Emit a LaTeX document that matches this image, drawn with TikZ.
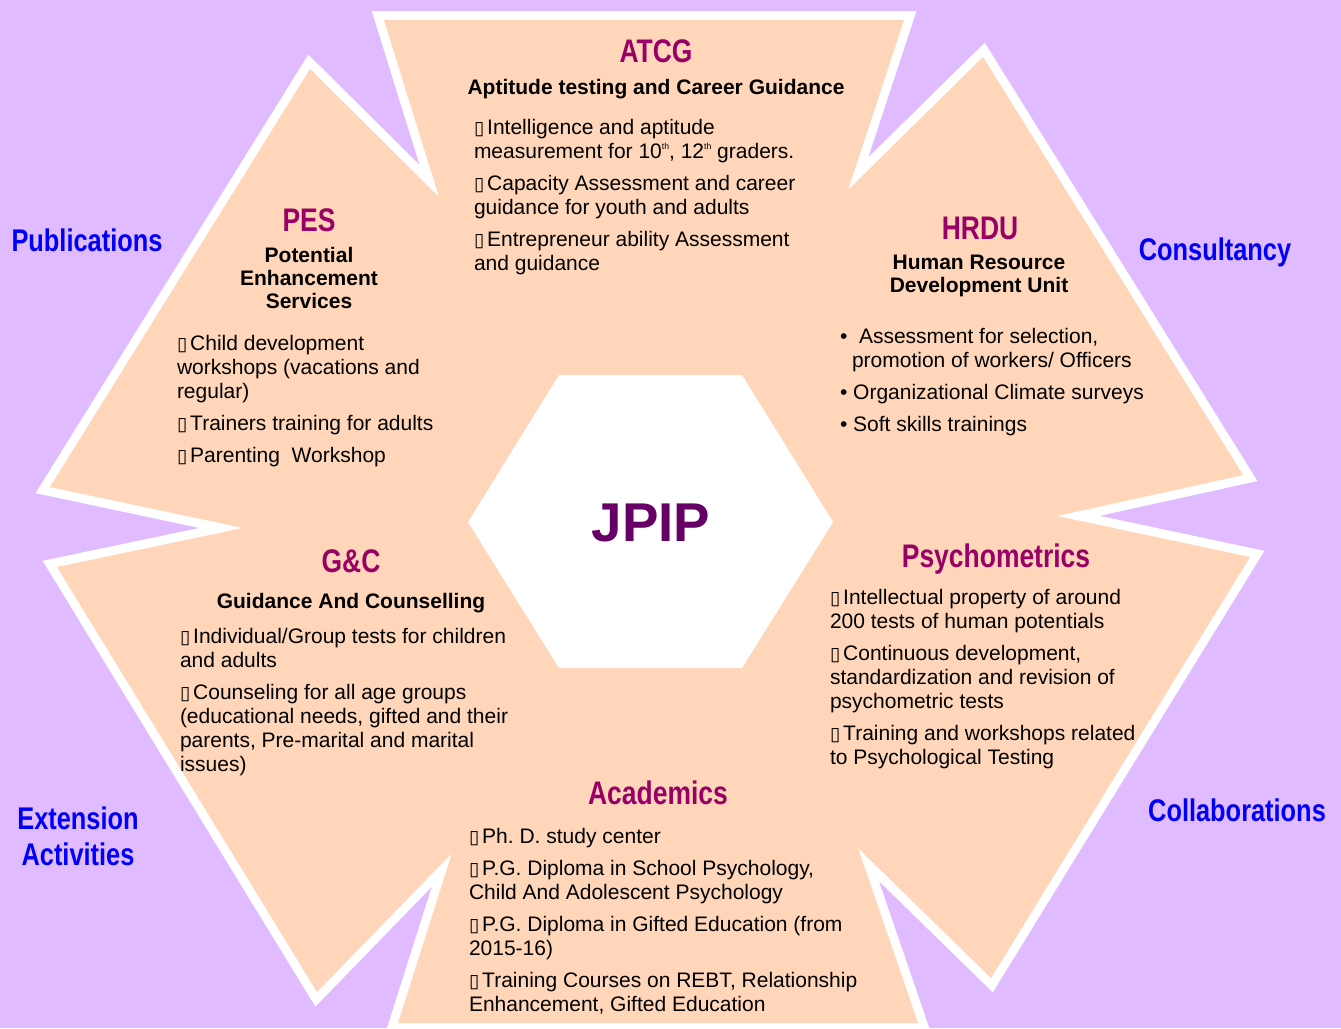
\documentclass[tikz,border=0pt]{standalone}
\usepackage{fontspec}
\setmainfont{Liberation Sans}
\newfontfamily\narrowsans[FakeStretch=0.81]{Liberation Sans}
\newfontfamily\boxsans{DejaVu Sans}
\frenchspacing
\definecolor{lilac}{RGB}{225,187,255}
\definecolor{peach}{RGB}{255,214,185}
\definecolor{unitred}{RGB}{153,0,102}
\definecolor{linkblue}{RGB}{0,0,245}
\definecolor{hubpurple}{RGB}{102,0,102}
\newcommand{\bx}{{\boxsans\fontsize{14}{14}\selectfont\symbol{"25AF}}\hspace{2.2pt}}
\newcommand{\ordth}{\raisebox{6.5pt}{\fontsize{6.5}{6.5}\selectfont th}}

\begin{document}
\begin{tikzpicture}[x=0.75pt,y=-0.75pt]
	\tikzstyle{every node}=[inner sep=0pt,outer sep=0pt]
	\tikzstyle{unit}=[anchor=base,text=unitred,font=\narrowsans\bfseries\fontsize{24.5}{24.5}\selectfont]
	\tikzstyle{unitname}=[align=center,font=\bfseries\fontsize{15.75}{17.5}\selectfont]
	\tikzstyle{duties}=[anchor=north west,align=left,font=\fontsize{15.75}{18}\selectfont]
	\tikzstyle{outreach}=[anchor=base,align=center,text=linkblue,font=\narrowsans\bfseries\fontsize{23.5}{27}\selectfont]
	
	%% background
	\useasboundingbox (0,0) rectangle (1341,1028);
	\fill[lilac] (0,0) rectangle (1341,1028);
	
	%% six units as one star with a white rim
	\path[preaction={draw=white,line width=13.5pt,line join=miter},fill=peach]
		(384,20) -- (439,197) -- (310,69) -- (50,487) -- (243,528) -- (57,567)
		-- (317,992) -- (452,853) -- (398,1023) -- (918,1023) -- (858,848)
		-- (991,978) -- (1250,557) -- (1057,516) -- (1243,475) -- (983,57)
		-- (848,190) -- (904,20) -- cycle;
	
	%% hub
	\fill[white] (468,522) -- (559,375) -- (742,375) -- (833,522) -- (742,668) -- (559,668) -- cycle;
	\node[anchor=base,text=hubpurple,font=\bfseries\fontsize{41}{41}\selectfont] (jpip) at (651,541) {JPIP};
	
	%% ATCG
	\node[unit] (atcg) at (656,62) {ATCG};
	\node[unitname,anchor=base] (atcgname) at (656,94) {Aptitude testing and Career Guidance};
	\node[duties] (atcglist) at (474,119) {\bx Intelligence and aptitude\\
		measurement for 10\ordth, 12\ordth\ graders.\\[6pt]
		\bx Capacity Assessment and career\\
		guidance for youth and adults\\[6pt]
		\bx Entrepreneur ability Assessment\\
		and guidance};
	
	%% PES
	\node[unit] (pes) at (309,231) {PES};
	\node[unitname,anchor=north] (pesname) at (309,247) {Potential\\Enhancement\\Services};
	\node[duties] (peslist) at (177,335) {\bx Child development\\
		workshops (vacations and\\
		regular)\\[6pt]
		\bx Trainers training for adults\\[6pt]
		\bx Parenting\ \ Workshop};
	
	%% HRDU
	\node[unit] (hrdu) at (980,239) {HRDU};
	\node[unitname,anchor=north] (hrduname) at (979,255) {Human Resource\\Development Unit};
	\node[duties] (hrdulist) at (840,328) {\textbullet\ \ Assessment for selection,\\
		\hspace*{9pt}promotion of workers/ Officers\\[6pt]
		\textbullet\ Organizational Climate surveys\\[6pt]
		\textbullet\ Soft skills trainings};
	
	%% G&C
	\node[unit] (gc) at (351,572) {G\&C};
	\node[unitname,anchor=base] (gcname) at (351,608) {Guidance And Counselling};
	\node[duties] (gclist) at (180,628) {\bx Individual/Group tests for children\\
		and adults\\[6pt]
		\bx Counseling for all age groups\\
		(educational needs, gifted and their\\
		parents, Pre-marital and marital\\
		issues)};
	
	%% Psychometrics
	\node[unit] (psy) at (996,567) {Psychometrics};
	\node[duties] (psylist) at (830,589) {\bx Intellectual property of around\\
		200 tests of human potentials\\[6pt]
		\bx Continuous development,\\
		standardization and revision of\\
		psychometric tests\\[6pt]
		\bx Training and workshops related\\
		to Psychological Testing};
	
	%% Academics
	\node[unit] (acad) at (658,804) {Academics};
	\node[duties] (acadlist) at (469,828) {\bx Ph. D. study center\\[6pt]
		\bx P.G. Diploma in School Psychology,\\
		Child And Adolescent Psychology\\[6pt]
		\bx P.G. Diploma in Gifted Education (from\\
		2015-16)\\[6pt]
		\bx Training Courses on REBT, Relationship\\
		Enhancement, Gifted Education};
	
	%% outreach around the star
	\node[outreach] (publ) at (87,251) {Publications};
	\node[outreach] (consult) at (1215,260) {Consultancy};
	\node[outreach,anchor=north] (extn) at (78,807) {Extension\\Activities};
	\node[outreach] (collab) at (1237,821) {Collaborations};
\end{tikzpicture}
\end{document}
